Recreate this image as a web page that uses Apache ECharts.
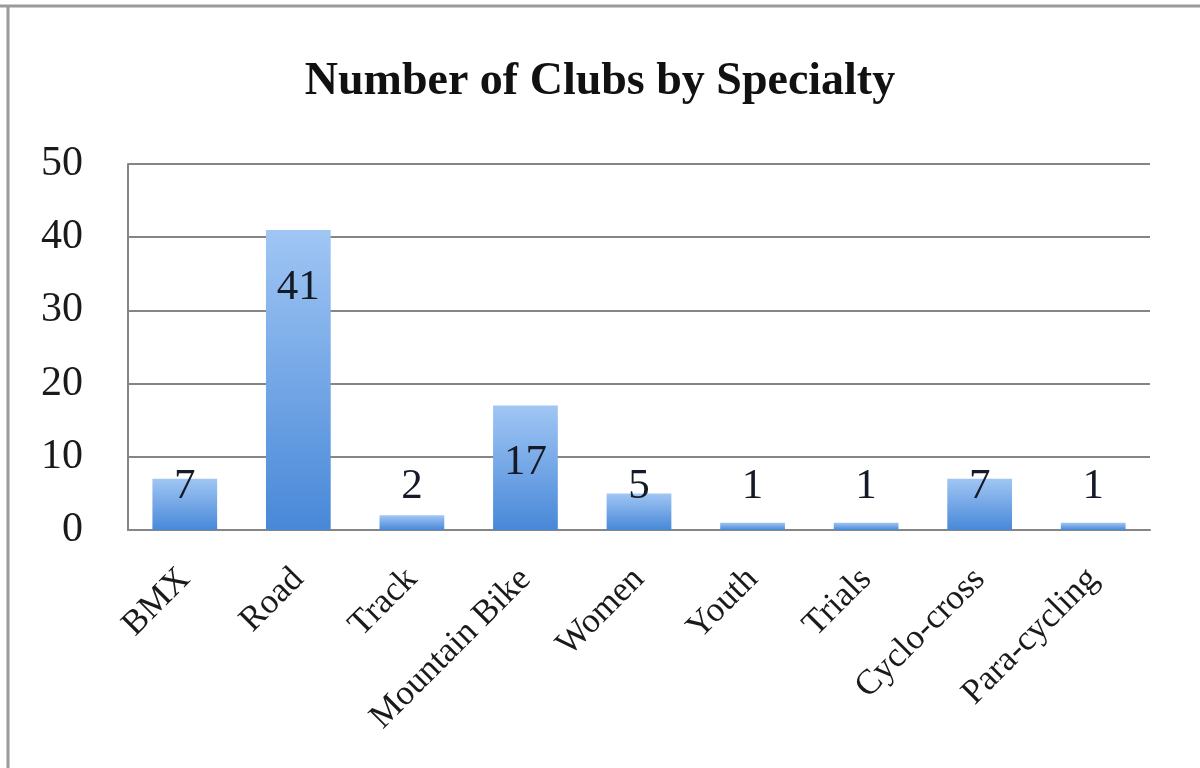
<!DOCTYPE html>
<html>
<head>
<meta charset="utf-8">
<title>Number of Clubs by Specialty</title>
<script src="https://cdn.jsdelivr.net/npm/echarts@6/dist/echarts.min.js"></script>
<style>
  html, body { margin: 0; padding: 0; background: #ffffff; }
  #chart { width: 1200px; height: 768px; }
</style>
</head>
<body>
<div id="chart"></div>
<script>
// Chart data
const titleText = 'Number of Clubs by Specialty';
const categories = ['BMX', 'Road', 'Track', 'Mountain Bike', 'Women', 'Youth', 'Trials', 'Cyclo-cross', 'Para-cycling'];
const clubCounts = [7, 41, 2, 17, 5, 1, 1, 7, 1];
const yTicks = [0, 10, 20, 30, 40, 50];

const serif = '"Liberation Serif", "DejaVu Serif", serif';

// Tall bars carry their count inside near the top; short bars carry it just above the base line.
const barData = clubCounts.map(v => ({
  value: v,
  label: v >= 12
    ? { position: 'insideTop', distance: 36 }
    : { position: 'insideBottom', distance: 22 }
}));

const chart = echarts.init(document.getElementById('chart'), null, { renderer: 'canvas' });

chart.setOption({
  backgroundColor: '#ffffff',
  animation: false,
  title: {
    text: titleText,
    left: 'center',
    top: 54,
    textStyle: { fontFamily: serif, fontWeight: 'bold', fontSize: 46, color: '#111111' }
  },
  graphic: [
    { type: 'line', shape: { x1: 0, y1: 6, x2: 1200, y2: 6 }, style: { stroke: '#9a9a9a', lineWidth: 3 } },
    { type: 'line', shape: { x1: 8, y1: 5, x2: 8, y2: 768 }, style: { stroke: '#9a9a9a', lineWidth: 3 } }
  ],
  grid: { left: 128, right: 50, top: 164, bottom: 238, containLabel: false },
  xAxis: {
    type: 'category',
    data: categories,
    axisTick: { show: false },
    axisLine: { lineStyle: { color: '#858585', width: 2 } },
    axisLabel: {
      rotate: 45,
      interval: 0,
      margin: 44,
      fontFamily: serif,
      fontSize: 35,
      color: '#1a1a1a'
    }
  },
  yAxis: {
    type: 'value',
    min: yTicks[0],
    max: yTicks[yTicks.length - 1],
    interval: yTicks[1] - yTicks[0],
    axisLine: { show: true, lineStyle: { color: '#858585', width: 2 } },
    axisTick: { show: false },
    splitLine: { lineStyle: { color: '#858585', width: 2 } },
    axisLabel: {
      margin: 45,
      fontFamily: serif,
      fontSize: 42,
      color: '#1a1a1a'
    }
  },
  series: [{
    type: 'bar',
    data: barData,
    barCategoryGap: '43%',
    itemStyle: {
      color: new echarts.graphic.LinearGradient(0, 0, 0, 1, [
        { offset: 0, color: '#a0c6f4' },
        { offset: 1, color: '#4888d8' }
      ])
    },
    label: {
      show: true,
      fontFamily: serif,
      fontSize: 43,
      color: '#141a26'
    }
  }]
});
</script>
</body>
</html>
